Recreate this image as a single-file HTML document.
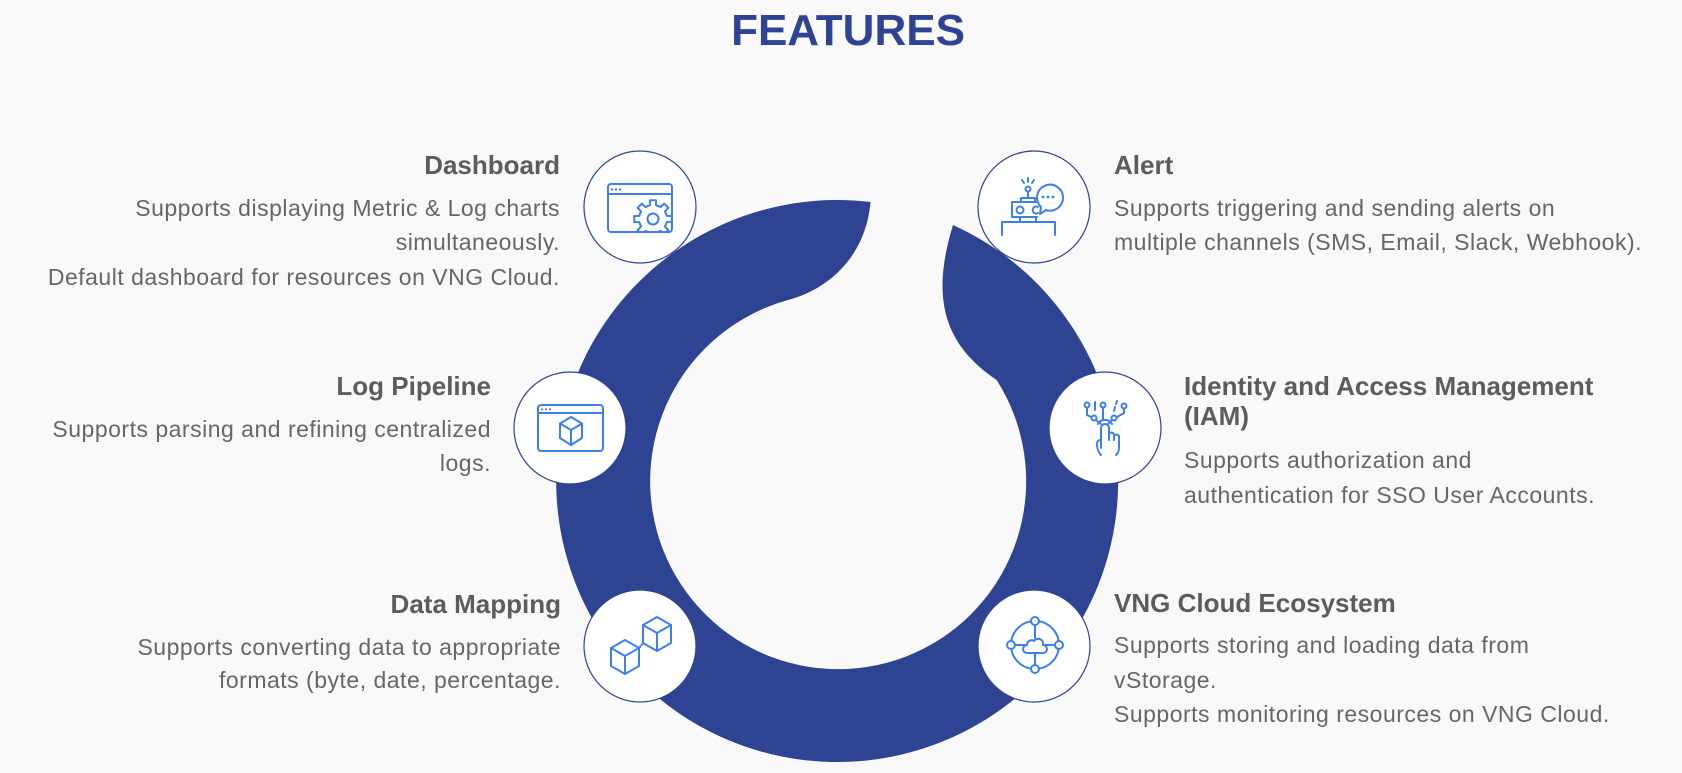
<!DOCTYPE html>
<html>
<head>
<meta charset="utf-8">
<style>
  html, body { margin: 0; padding: 0; background: #f9f9f9; }
  body { width: 1682px; height: 773px; overflow: hidden; }
  svg { display: block; }
  .h { font-family: "Liberation Sans", Arial, sans-serif; font-weight: bold; font-size: 26px; fill: #5c5c5c; }
  .b { font-family: "Liberation Sans", Arial, sans-serif; font-size: 23px; fill: #666666; letter-spacing: 0.5px; }
  .t { font-family: "Liberation Sans", Arial, sans-serif; font-weight: bold; font-size: 44px; fill: #2e4394; }
  .ic { fill: none; stroke: #3d80ec; stroke-width: 2; stroke-linecap: round; stroke-linejoin: round; }
</style>
</head>
<body>
<svg width="1682" height="773" viewBox="0 0 1682 773" xmlns="http://www.w3.org/2000/svg">
  <defs>
    <path id="tooth" d="M12.93,-5.36 A14,14 0 0 1 13.64,-3.15 L18.77,-2.97 L18.77,2.97 L13.64,3.15 A14,14 0 0 1 12.93,5.36"/>
    <clipPath id="dashclip"><rect x="609" y="195" width="62" height="36"/></clipPath>
  </defs>
  <rect width="1682" height="773" fill="#f9f9f9"/>

  <!-- Title -->
  <text class="t" x="848" y="45" text-anchor="middle">FEATURES</text>

  <!-- Ring -->
  <path d="M 870.5 202 A 281 281 0 1 0 953 225 C 930 300, 945 345, 996.6 380 A 188 188 0 1 1 788 300 C 830 289, 866 255, 870.5 202 Z" fill="#2e4492"/>

  <!-- Circles -->
  <g fill="#ffffff" stroke="#2e4492" stroke-width="1.2">
    <circle cx="640" cy="207" r="56"/>
    <circle cx="1034" cy="207" r="56"/>
    <circle cx="570" cy="428" r="56"/>
    <circle cx="1105" cy="428" r="56"/>
    <circle cx="640" cy="646" r="56"/>
    <circle cx="1034" cy="646" r="56"/>
  </g>

  <!-- Dashboard icon -->
  <g class="ic">
    <rect x="608" y="184" width="64" height="48" rx="3"/>
    <line x1="609" y1="194" x2="671" y2="194"/>
    <g clip-path="url(#dashclip)">
      <g transform="translate(653,219)">
        <use href="#tooth" transform="rotate(0)"/>
        <use href="#tooth" transform="rotate(45)"/>
        <use href="#tooth" transform="rotate(90)"/>
        <use href="#tooth" transform="rotate(135)"/>
        <use href="#tooth" transform="rotate(180)"/>
        <use href="#tooth" transform="rotate(225)"/>
        <use href="#tooth" transform="rotate(270)"/>
        <use href="#tooth" transform="rotate(315)"/>
      </g>
    </g>
    <circle cx="653" cy="219" r="5.5"/>
  </g>
  <g fill="#3d80ec">
    <circle cx="612" cy="189.5" r="1.2"/>
    <circle cx="616" cy="189.5" r="1.2"/>
    <circle cx="620" cy="189.5" r="1.2"/>
  </g>

  <!-- Alert icon -->
  <g class="ic">
    <line x1="1028" y1="178" x2="1028" y2="182"/>
    <line x1="1022" y1="180" x2="1024" y2="183"/>
    <line x1="1034" y1="180" x2="1032" y2="183"/>
    <circle cx="1028" cy="189" r="2.5"/>
    <line x1="1028" y1="191.5" x2="1028" y2="198"/>
    <rect x="1021" y="198" width="14" height="4"/>
    <path d="M1037 202 L1012 202 L1012 217 L1037 217"/>
    <circle cx="1020" cy="210" r="3.5"/>
    <path d="M1038 207 A3.5 3.5 0 1 0 1038 213"/>
    <rect x="1020" y="217" width="16" height="5"/>
    <path d="M1002 235 L1002 222 L1055 222 L1055 235"/>
    <path d="M1040 214 L1041 207 A13 13 0 1 1 1046 210 Z"/>
  </g>
  <g fill="#3d80ec">
    <circle cx="1043" cy="197" r="1.4"/>
    <circle cx="1048" cy="197" r="1.4"/>
    <circle cx="1053" cy="197" r="1.4"/>
  </g>

  <!-- Log Pipeline icon -->
  <g class="ic">
    <rect x="538" y="405" width="65" height="46" rx="3"/>
    <line x1="539" y1="413" x2="602" y2="413"/>
    <path d="M571 417 L582 423.5 L582 438 L571 445 L560 438 L560 423.5 Z"/>
    <path d="M560 423.5 L571 430 L582 423.5 M571 430 L571 445"/>
  </g>
  <g fill="#3d80ec">
    <circle cx="542" cy="409.3" r="1.1"/>
    <circle cx="546" cy="409.3" r="1.1"/>
    <circle cx="550" cy="409.3" r="1.1"/>
  </g>

  <!-- IAM icon -->
  <g class="ic" stroke-width="1.8">
    <circle cx="1087" cy="405" r="2.5"/>
    <path d="M1087 407.5 L1087 415 L1091 417"/>
    <line x1="1095" y1="402" x2="1095" y2="410"/>
    <circle cx="1094" cy="418" r="2.5"/>
    <path d="M1096 420 L1101 424"/>
    <circle cx="1103" cy="405" r="2.5"/>
    <line x1="1103" y1="407.5" x2="1103" y2="419"/>
    <path d="M1117 401 L1116 404 M1115 407 L1114 411"/>
    <circle cx="1114" cy="418" r="2.5"/>
    <path d="M1112 420 L1108 424"/>
    <circle cx="1124" cy="406" r="2.5"/>
    <path d="M1124 408.5 L1124 413 L1117 417"/>
    <path d="M1101 448 L1101 428 A4 4 0 0 1 1109 428 L1109 440 L1109 434 A3 3 0 0 1 1114 434 L1114 440 L1114 436 A3 3 0 0 1 1119 436 L1119 448 Q1119 452 1116 455"/>
    <path d="M1101 440 Q1096 440 1097 446 Q1098 452 1101 455"/>
    <path d="M1098 424 A8 8 0 0 1 1112 424"/>
  </g>

  <!-- Data Mapping icon -->
  <g class="ic">
    <path d="M625 640 L639 648 L639 666 L625 674 L611 666 L611 648 Z"/>
    <path d="M611 648 L625 656 L639 648 M625 656 L625 674"/>
    <path d="M657 617 L671 625 L671 643 L657 651 L643 643 L643 625 Z"/>
    <path d="M643 625 L657 633 L671 625 M657 633 L657 651"/>
    <path d="M639 648 L643 643" stroke-dasharray="2 2"/>
  </g>

  <!-- VNG Cloud icon -->
  <g class="ic">
    <circle cx="1035" cy="645" r="24"/>
    <line x1="1035" y1="625" x2="1035" y2="638"/>
    <line x1="1035" y1="653" x2="1035" y2="665"/>
    <line x1="1015" y1="645" x2="1025" y2="645"/>
    <line x1="1045" y1="645" x2="1055" y2="645"/>
    <path d="M1027 653 L1043 653 A4 4 0 0 0 1043 645 A5 5 0 0 0 1034 641 A4.5 4.5 0 0 0 1027 645 A4 4 0 0 0 1027 653 Z"/>
  </g>
  <g fill="#ffffff" stroke="#3d80ec" stroke-width="2">
    <circle cx="1035" cy="621" r="4"/>
    <circle cx="1035" cy="669" r="4"/>
    <circle cx="1011" cy="645" r="4"/>
    <circle cx="1059" cy="645" r="4"/>
  </g>

  <!-- Left texts -->
  <text class="h" x="560" y="174" text-anchor="end">Dashboard</text>
  <text class="b" x="560" y="216" text-anchor="end">Supports displaying Metric &amp; Log charts</text>
  <text class="b" x="560" y="250" text-anchor="end">simultaneously.</text>
  <text class="b" x="560" y="285" text-anchor="end">Default dashboard for resources on VNG Cloud.</text>

  <text class="h" x="491" y="395" text-anchor="end">Log Pipeline</text>
  <text class="b" x="491" y="437" text-anchor="end">Supports parsing and refining centralized</text>
  <text class="b" x="491" y="471" text-anchor="end">logs.</text>

  <text class="h" x="561" y="613" text-anchor="end">Data Mapping</text>
  <text class="b" x="561" y="655" text-anchor="end">Supports converting data to appropriate</text>
  <text class="b" x="561" y="688" text-anchor="end">formats (byte, date, percentage.</text>

  <!-- Right texts -->
  <text class="h" x="1114" y="174">Alert</text>
  <text class="b" x="1114" y="216">Supports triggering and sending alerts on</text>
  <text class="b" x="1114" y="250">multiple channels (SMS, Email, Slack, Webhook).</text>

  <text class="h" x="1184" y="395">Identity and Access Management</text>
  <text class="h" x="1184" y="425">(IAM)</text>
  <text class="b" x="1184" y="468">Supports authorization and</text>
  <text class="b" x="1184" y="503">authentication for SSO User Accounts.</text>

  <text class="h" x="1114" y="612">VNG Cloud Ecosystem</text>
  <text class="b" x="1114" y="653">Supports storing and loading data from</text>
  <text class="b" x="1114" y="688">vStorage.</text>
  <text class="b" x="1114" y="722">Supports monitoring resources on VNG Cloud.</text>
</svg>
</body>
</html>
